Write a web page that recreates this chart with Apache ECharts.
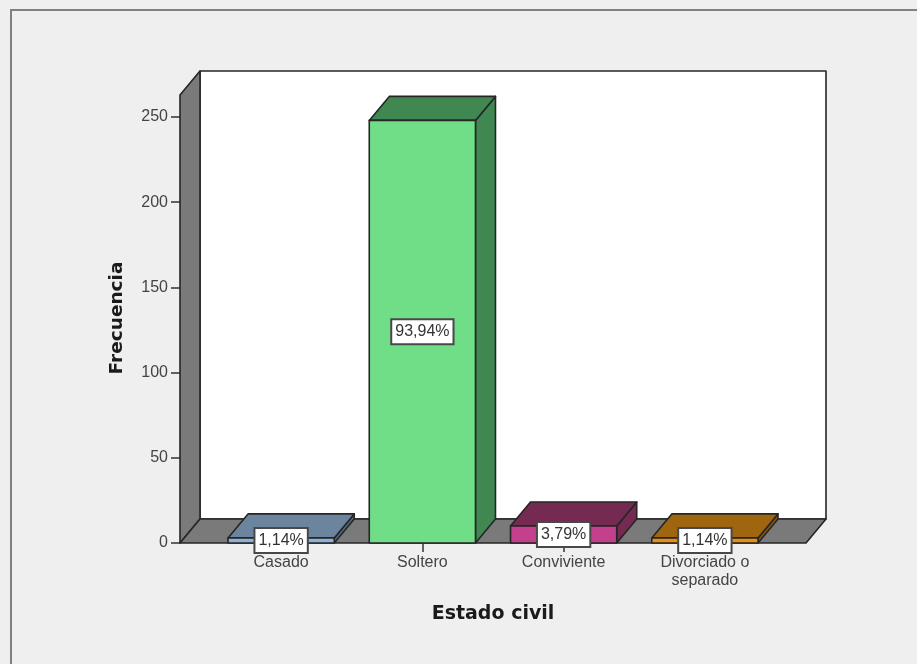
<!DOCTYPE html>
<html>
<head>
<meta charset="utf-8">
<style>html,body{margin:0;padding:0;background:#efefef}#c{width:917px;height:664px;filter:blur(0.55px)}</style>
<script src="https://cdn.jsdelivr.net/npm/echarts@6/dist/echarts.min.js"></script>
</head>
<body>
<div id="c"></div>
<script>
const categories = ['Casado', 'Soltero', 'Conviviente', 'Divorciado o\nseparado'];
const frecuencias = [3, 248, 10, 3];
const porcentajes = ['1,14%', '93,94%', '3,79%', '1,14%'];
const yTicks = { min: 0, max: 250, interval: 50 };
const frontColors = ['#8db2d6', '#70dd87', '#c43f8c', '#e88f12'];
const shadeColors = ['#6b859e', '#408752', '#752a52', '#a0650f'];
const sideColors = ['#4f6b85', '#408752', '#752a52', '#8a560c'];

const DX = 20, DY = 24, PAD_X = 30.5, TOP_EXTRA = 22;
const EDGE = '#262626';
const TEXT = '#444444';
const FONT = '"Liberation Sans", Arial, sans-serif';
const TITLE_FONT = '"DejaVu Sans", sans-serif';

function poly(points, fill, z2) {
  return { type: 'polygon', z2: z2, shape: { points: points },
    style: { fill: fill, stroke: EDGE, lineWidth: 1.6, lineJoin: 'round' } };
}

function renderWalls(params, api) {
  const g = params.coordSys;
  const x0 = g.x - PAD_X, x1 = g.x + g.width + PAD_X;
  const yb = g.y + g.height, yt = g.y - TOP_EXTRA;
  return { type: 'group', children: [
    poly([[x0 + DX, yt - DY], [x1 + DX, yt - DY], [x1 + DX, yb - DY], [x0 + DX, yb - DY]], '#ffffff', 1),
    poly([[x0, yt], [x0 + DX, yt - DY], [x0 + DX, yb - DY], [x0, yb]], '#7a7a7a', 2),
    poly([[x0, yb], [x0 + DX, yb - DY], [x1 + DX, yb - DY], [x1, yb]], '#7a7a7a', 2)
  ] };
}

function renderBar(params, api) {
  const i = params.dataIndex;
  const bottom = api.coord([api.value(0), 0]);
  const top = api.coord([api.value(0), api.value(1)]);
  const w = api.size([1, 0])[0] * 0.752;
  const l = bottom[0] - w / 2, r = bottom[0] + w / 2;
  const yb = bottom[1], yt = top[1];
  return { type: 'group', children: [
    poly([[r, yb], [r + DX, yb - DY], [r + DX, yt - DY], [r, yt]], sideColors[i], 3),
    poly([[l, yt], [l + DX, yt - DY], [r + DX, yt - DY], [r, yt]], shadeColors[i], 3),
    poly([[l, yb], [l, yt], [r, yt], [r, yb]], frontColors[i], 4),
    { type: 'text', z2: 10, x: bottom[0], y: (yb + yt) / 2,
      style: { text: porcentajes[i], font: '16px ' + FONT, fill: '#333333', align: 'center', verticalAlign: 'middle',
        backgroundColor: '#ffffff', borderColor: '#484848', borderWidth: 2, padding: [4, 3, 3, 3] } }
  ] };
}

const chart = echarts.init(document.getElementById('c'), null, { renderer: 'canvas' });
chart.setOption({
  animation: false,
  backgroundColor: '#efefef',
  graphic: [{ type: 'rect', z: -1, silent: true, shape: { x: 11, y: 10, width: 1000, height: 800 },
    style: { fill: '#efefef', stroke: '#808080', lineWidth: 2 } }],
  grid: { left: 210.5, right: 141.5, top: 117, bottom: 121, containLabel: false },
  xAxis: {
    type: 'category', data: categories, boundaryGap: true,
    name: 'Estado civil', nameLocation: 'middle', nameGap: 62,
    nameTextStyle: { fontFamily: TITLE_FONT, fontWeight: 'bold', fontSize: 19, color: '#1a1a1a' },
    axisLine: { show: false },
    axisTick: { show: true, alignWithLabel: true, length: 9, lineStyle: { color: '#333', width: 1.5 } },
    axisLabel: { margin: 11, interval: 0, fontFamily: FONT, fontSize: 16, lineHeight: 17.5, color: TEXT }
  },
  yAxis: {
    type: 'value', min: yTicks.min, max: yTicks.max, interval: yTicks.interval, offset: 30.5,
    name: 'Frecuencia', nameLocation: 'middle', nameGap: 53, nameRotate: 90,
    nameTextStyle: { fontFamily: TITLE_FONT, fontWeight: 'bold', fontSize: 18.5, color: '#1a1a1a', padding: [0, 0, 0, 24] },
    axisLine: { show: false },
    axisTick: { show: true, length: 9, lineStyle: { color: '#333', width: 1.5 } },
    axisLabel: { margin: 12, fontFamily: FONT, fontSize: 16, color: TEXT },
    splitLine: { show: false }
  },
  series: [
    { type: 'custom', name: 'Planos', z: 1, silent: true, clip: false, renderItem: renderWalls, data: [[0, 0]] },
    { type: 'custom', name: 'Frecuencia', z: 2, silent: true, clip: false, renderItem: renderBar,
      encode: { x: 0, y: 1 }, data: frecuencias.map((v, i) => [i, v]) }
  ]
});
</script>
</body>
</html>
